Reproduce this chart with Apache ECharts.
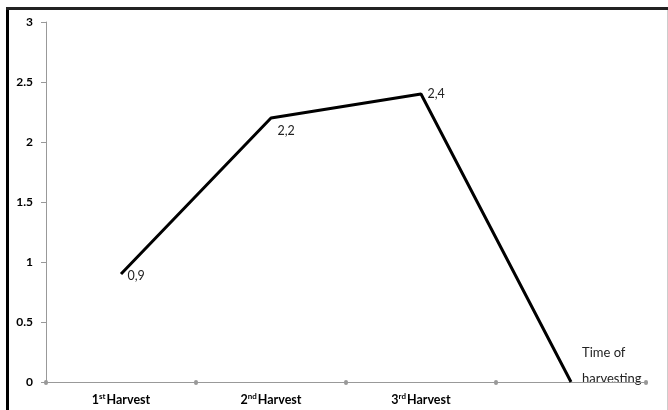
<!DOCTYPE html>
<html>
<head>
<meta charset="utf-8">
<script src="https://cdn.jsdelivr.net/npm/echarts@6/dist/echarts.min.js"></script>
<style>html,body{margin:0;padding:0;background:#fff}#c{width:668px;height:410px}</style>
</head>
<body>
<div id="c"></div>
<script>
const categories = ['1|st|Harvest', '2|nd|Harvest', '3|rd|Harvest', ''];
const values = [0.9, 2.2, 2.4, 0];
const valueLabels = ['0,9', '2,2', '2,4', ''];
const yTicks = [0, 0.5, 1, 1.5, 2, 2.5, 3];

const labelStyles = [
  {position: 'right', offset: [1, 2]},
  {position: 'right', offset: [1, 13]},
  {position: 'right', offset: [1, 0]},
  {show: false}
];

const chart = echarts.init(document.getElementById('c'), null, {renderer: 'canvas'});
const font = 'Lato, "Liberation Sans", sans-serif';
chart.setOption({
  animation: false,
  grid: {left: 46, right: 22, top: 22, bottom: 28, containLabel: false},
  graphic: [
    {type: 'line', shape: {x1: 7.5, y1: 7, x2: 7.5, y2: 410}, style: {stroke: '#000', lineWidth: 3}},
    {type: 'line', shape: {x1: 6, y1: 8.5, x2: 668, y2: 8.5}, style: {stroke: '#222', lineWidth: 3}},
    {type: 'line', shape: {x1: 667.5, y1: 10, x2: 667.5, y2: 410}, style: {stroke: '#ccc', lineWidth: 1}}
  ],
  xAxis: {
    type: 'category',
    data: categories,
    boundaryGap: true,
    name: '{t|Time of}\n{t|harvesting}',
    nameLocation: 'end',
    nameGap: 0,
    nameTextStyle: {
      align: 'right', verticalAlign: 'bottom', padding: [0, -2, -10, 0],
      rich: {t: {fontFamily: font, fontSize: 13, color: '#222', width: 66, align: 'left', lineHeight: 26}}
    },
    axisLine: {lineStyle: {color: '#999', width: 1}},
    axisTick: {show: true, length: 1, alignWithLabel: false, lineStyle: {color: '#999', width: 4, cap: 'round'}},
    axisLabel: {
      margin: 9,
      interval: 0,
      formatter: function (v) {
        if (!v) return '';
        const p = v.split('|');
        return '{n|' + p[0] + '}{s|' + p[1] + '}{h|' + p[2] + '}';
      },
      rich: {
        n: {fontFamily: font, fontSize: 12.5, fontWeight: 'bold', color: '#000', verticalAlign: 'bottom', lineHeight: 15},
        s: {fontFamily: font, fontSize: 8, fontWeight: 'bold', color: '#000', verticalAlign: 'bottom', lineHeight: 9, padding: [0, 1, 6, 0]},
        h: {fontFamily: font, fontSize: 12.5, fontWeight: 'bold', color: '#000', verticalAlign: 'bottom', lineHeight: 15}
      }
    },
    splitLine: {show: false}
  },
  yAxis: {
    type: 'value',
    min: yTicks[0],
    max: yTicks[yTicks.length - 1],
    interval: 0.5,
    axisLine: {show: true, lineStyle: {color: '#999', width: 1}},
    axisTick: {show: true, length: 5, lineStyle: {color: '#999'}},
    axisLabel: {fontFamily: font, fontSize: 12, fontWeight: 'bold', color: '#000', margin: 13},
    splitLine: {show: false}
  },
  series: [{
    type: 'line',
    data: values.map((v, i) => ({value: v, label: Object.assign({show: true}, labelStyles[i])})),
    symbol: 'circle',
    symbolSize: 1,
    showSymbol: true,
    itemStyle: {color: 'rgba(0,0,0,0)'},
    lineStyle: {color: '#000', width: 3},
    label: {
      show: true,
      fontFamily: font,
      fontSize: 12.5,
      color: '#222',
      formatter: p => valueLabels[p.dataIndex]
    }
  }]
});
</script>
</body>
</html>
